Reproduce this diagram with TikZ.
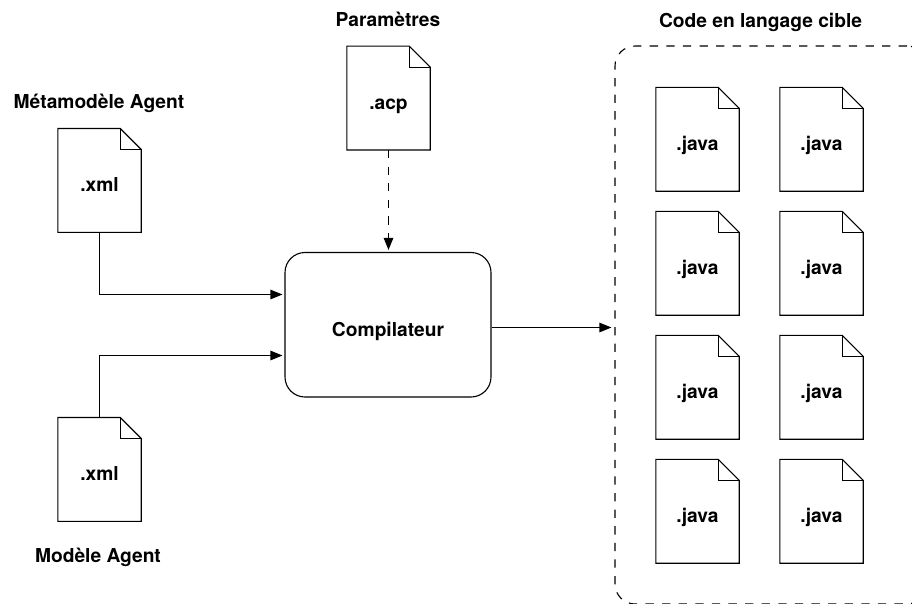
\documentclass[tikz,border=0pt]{standalone}
\usepackage{fontspec}
\setmainfont{TeX Gyre Heros}
\usetikzlibrary{arrows.meta}
\tikzset{
  x=1pt,y=-1pt,
  docbox/.style={minimum width=83pt,minimum height=103.5pt,inner sep=0pt,text height=22pt,text depth=0pt,font=\bfseries\fontsize{19.2}{21}\selectfont},
  docline/.style={line width=1.1pt,line join=miter},
  title/.style={anchor=base,inner sep=0pt,font=\bfseries\fontsize{19.2}{21}\selectfont},
  conn/.style={line width=1.1pt,-{Triangle[length=12pt,width=9.5pt]},shorten >=2pt},
  dashconn/.style={conn,dash pattern=on 8.3pt off 8.3pt},
  compbox/.style={draw,line width=1.1pt,rounded corners=20pt,minimum width=206pt,minimum height=144.5pt,inner sep=0pt,text height=24pt,text depth=0pt,font=\bfseries\fontsize{19.2}{21}\selectfont},
  groupbox/.style={draw,line width=1.1pt,dash pattern=on 8.3pt off 8.3pt,rounded corners=20pt,minimum width=312pt,minimum height=558pt,inner sep=0pt}
}
\newcommand{\docoutline}[1]{%
  \draw[docline] (#1.north west) -- ([xshift=-21pt]#1.north east) -- ([yshift=-21pt]#1.north east) -- (#1.south east) -- (#1.south west) -- cycle;
  \draw[docline] ([xshift=-21pt]#1.north east) -- ([xshift=-21pt,yshift=-21pt]#1.north east) -- ([yshift=-21pt]#1.north east);
}
\begin{document}
\begin{tikzpicture}
\useasboundingbox (0,0) rectangle (912,603);
\clip (0,0) rectangle (912,603);
% labels
\node[title] (l1) at (99,108) {Métamodèle Agent};
\node[title] (l2) at (388,26) {Paramètres};
\node[title] (l3) at (760.5,27) {Code en langage cible};
\node[title] (l4) at (98,562.5) {Modèle Agent};
% documents
\node[docbox] (xa) at (99.5,180.4) {.xml};
\node[docbox] (xb) at (99.5,469.4) {.xml};
\node[docbox] (acp) at (388.5,98) {.acp};
\docoutline{xa}\docoutline{xb}\docoutline{acp}
\foreach \c/\x in {a/697.5,b/821.5}{
  \foreach \r/\y in {1/139.3,2/263.3,3/387.3,4/511.3}{
    \node[docbox] (j\c\r) at (\x,\y) {.java};
    \docoutline{j\c\r}
  }
}
% compiler and group
\node[compbox] (comp) at (388,324.75) {Compilateur};
\node[groupbox] (grp) at (771,325) {};
% connectors
\draw[conn] (xa.south) |- ([yshift=30.25pt]comp.west);
\draw[conn] (xb.north) |- ([yshift=-30.75pt]comp.west);
\draw[dashconn] (acp.south) -- (acp.south |- comp.north);
\draw[conn] ([yshift=-2.75pt]comp.east) -- ([yshift=-2.5pt,xshift=-1pt]grp.west);
\end{tikzpicture}
\end{document}
